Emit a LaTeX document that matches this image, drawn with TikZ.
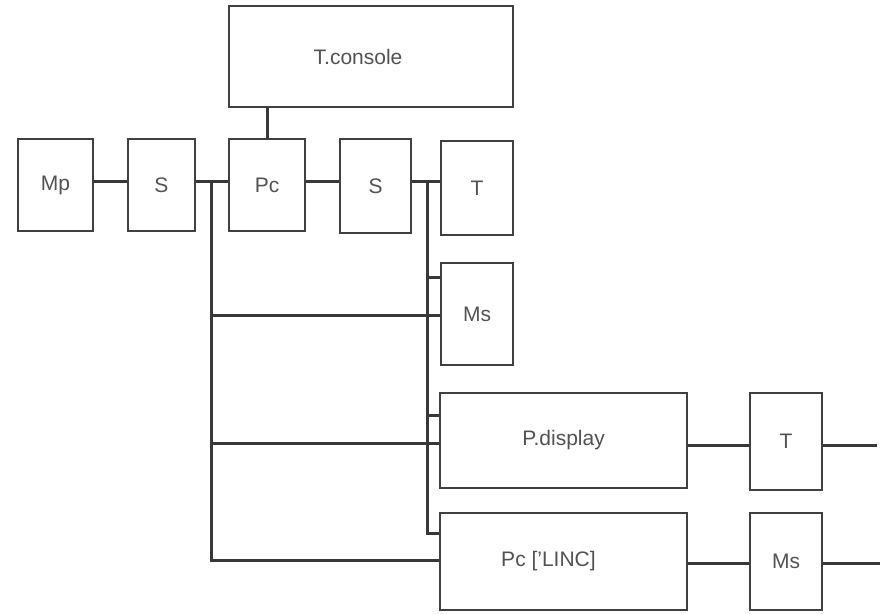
\documentclass[tikz,border=0pt]{standalone}
\usepackage{fontspec}
\setmainfont{Liberation Sans}
\begin{document}
\begin{tikzpicture}[x=1pt,y=-1pt,
  blk/.style={draw=black!75, line width=2.8pt, minimum width=#1, inner sep=0pt,
    font=\fontsize{21}{23}\selectfont, text=black!68},
  wire/.style={draw=black!78, line width=3pt}]
\useasboundingbox (0,0) rectangle (888,613);
\node[blk=284pt, minimum height=101pt] (tc) at (371,56.5) {\hspace*{-26pt}T.console};
\node[blk=75pt, minimum height=92pt] (mp) at (55.5,185) {Mp};
\node[blk=67pt, minimum height=92pt] (s1) at (161.5,185) {S};
\node[blk=76pt, minimum height=92pt] (pc) at (267,185) {Pc};
\node[blk=71pt, minimum height=94pt] (s2) at (375.5,186) {S};
\node[blk=72pt, minimum height=94pt] (t1) at (477,188) {T};
\node[blk=72pt, minimum height=102pt] (ms) at (477,314) {Ms};
\node[blk=247pt, minimum height=95pt] (pd) at (563.5,440.5) {P.display};
\node[blk=72pt, minimum height=97pt] (t2) at (786,441.5) {T};
\node[blk=247pt, minimum height=97pt] (linc) at (563.5,561.5) {\hspace*{-30pt}Pc ['LINC]};
\node[blk=72pt, minimum height=97pt] (ms2) at (786,561.5) {Ms};
% bus coordinates
\coordinate (ja) at (211,181);
\coordinate (jb) at (427,181);
\coordinate (ae) at (211,560);
\coordinate (be) at (427,533);
\coordinate (a1) at (211,315);
\coordinate (a2) at (211,443);
\coordinate (b1) at (427,277);
\coordinate (b2) at (427,415);
\coordinate (e1) at (877,445);
\coordinate (e2) at (880,563);
% connectors
\draw[wire] (pc.north) -- (pc.north |- tc.south);
\draw[wire] (mp.east |- ja) -- (s1.west |- ja);
\draw[wire] (s1.east |- ja) -- (pc.west |- ja);
\draw[wire] (pc.east |- ja) -- (s2.west |- ja);
\draw[wire] (s2.east |- jb) -- (t1.west |- jb);
\draw[wire] (ja) -- (ae) -- (linc.west |- ae);
\draw[wire] (jb) -- (be) -- (linc.west |- be);
\draw[wire] (b1) -- (ms.west |- b1);
\draw[wire] (a1) -- (ms.west |- a1);
\draw[wire] (b2) -- (pd.west |- b2);
\draw[wire] (a2) -- (pd.west |- a2);
\draw[wire] (pd.east |- e1) -- (t2.west |- e1);
\draw[wire] (t2.east |- e1) -- (e1);
\draw[wire] (linc.east |- e2) -- (ms2.west |- e2);
\draw[wire] (ms2.east |- e2) -- (e2);
\end{tikzpicture}
\end{document}
